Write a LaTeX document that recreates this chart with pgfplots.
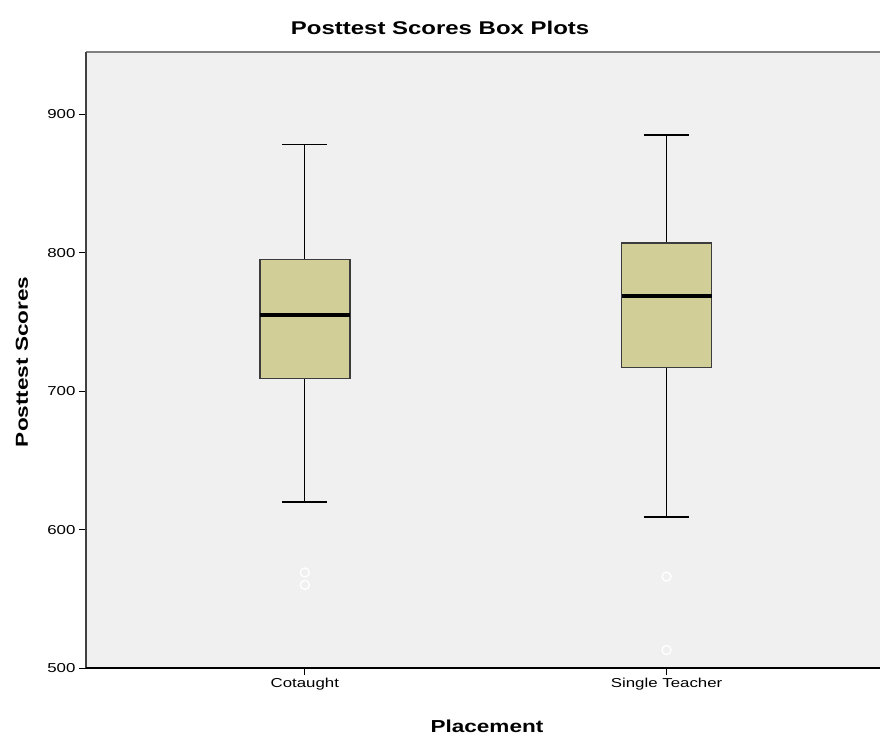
\documentclass[border=0pt]{standalone}
\usepackage{pgfplots}
\pgfplotsset{compat=1.18}
\usepackage{fontspec}
\setmainfont{Liberation Sans}[FakeStretch=1.3]
\definecolor{bgc}{RGB}{240,240,240}
\definecolor{boxc}{RGB}{210,206,152}
\definecolor{boxline}{RGB}{60,60,60}
\begin{document}
\begin{tikzpicture}
\begin{axis}[
  scale only axis, width=794bp, height=616bp,
  xmin=-0.605, xmax=1.59, ymin=500, ymax=945,
  clip=false,
  xtick={0,1}, xticklabels={Cotaught,Single Teacher},
  ytick={500,600,700,800,900},
  xtick pos=bottom, ytick pos=left, tick align=outside,
  major tick length=7bp,
  tick style={black, line width=1bp},
  axis background/.style={fill=bgc},
  axis line style={draw=none},
  ticklabel style={font=\fontsize{13}{15}\selectfont},
  /pgf/number format/assume math mode=true,
  /pgf/number format/1000 sep={},
  title={Posttest Scores Box Plots},
  title style={at={(axis description cs:0.446,1)}, anchor=center, yshift=18bp, font=\bfseries\fontsize{18.5}{20}\selectfont},
  xlabel={Placement},
  xlabel style={at={(axis description cs:0.505,0)}, anchor=center, yshift=-58bp, font=\bfseries\fontsize{17.4}{20}\selectfont},
  ylabel={Posttest Scores},
  ylabel style={at={(axis description cs:-0.0806,0.497)}, anchor=center, font=\bfseries\fontsize{17.4}{20}\selectfont},
]
% whiskers (stems and caps)
\addplot[black, line width=1.3bp, unbounded coords=jump] coordinates {
  (0,795) (0,878) (nan,nan) (-0.062,878) (0.062,878) (nan,nan)
  (0,709) (0,620) (nan,nan) (-0.062,620) (0.062,620)};
\addplot[black, line width=1.3bp, unbounded coords=jump] coordinates {
  (1,807) (1,885) (nan,nan) (0.938,885) (1.062,885) (nan,nan)
  (1,717) (1,609) (nan,nan) (0.938,609) (1.062,609)};
% boxes
\addplot[draw=boxline, line width=1.5bp, fill=boxc] coordinates {
  (-0.1245,709) (0.1245,709) (0.1245,795) (-0.1245,795)} -- cycle;
\addplot[draw=boxline, line width=1.5bp, fill=boxc] coordinates {
  (0.8755,717) (1.1245,717) (1.1245,807) (0.8755,807)} -- cycle;
% medians
\addplot[black, line width=3.8bp] coordinates {(-0.1245,755) (0.1245,755)};
\addplot[black, line width=3.8bp] coordinates {(0.8755,769) (1.1245,769)};
% outliers
\addplot[only marks, mark=o, mark size=4.5bp, mark options={draw=white, line width=1.3bp, fill=none}]
  coordinates {(0,569) (0,560) (1,566) (1,513)};
% frame
\draw[draw=gray, line width=2.5bp] (rel axis cs:0,1) -- (rel axis cs:1,1);
\draw[draw=black!75, line width=2bp] (rel axis cs:0,0) -- (rel axis cs:0,1);
\draw[draw=black, line width=2bp] (rel axis cs:0,0) -- (rel axis cs:1,0);
\end{axis}
\pgfresetboundingbox
\path (-86bp,-72bp) rectangle (794bp,668bp);
\end{tikzpicture}
\end{document}
